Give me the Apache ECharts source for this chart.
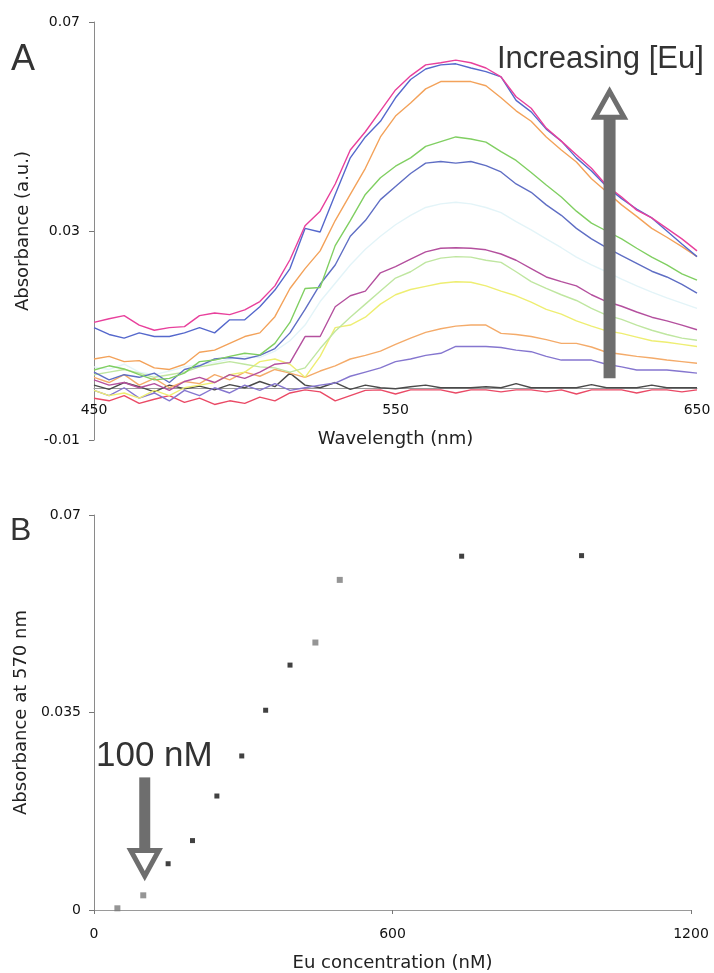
<!DOCTYPE html>
<html>
<head>
<meta charset="utf-8">
<script src="https://cdn.jsdelivr.net/npm/echarts@6/dist/echarts.min.js"></script>
<style>
html,body{margin:0;padding:0;background:#fff;}
#chart{width:714px;height:973px;}
</style>
</head>
<body>
<div id="chart"></div>
<script>
// ---------- Panel A: absorbance spectra ----------
const wavelengths = [450,455,460,465,470,475,480,485,490,495,500,505,510,515,520,525,530,535,540,545,550,555,560,565,570,575,580,585,590,595,600,605,610,615,620,625,630,635,640,645,650];

const specMagenta = [0.0125,0.0132,0.0138,0.0120,0.0110,0.0115,0.0117,0.0138,0.0143,0.0140,0.0149,0.0165,0.0195,0.0245,0.0310,0.0338,0.0390,0.0455,0.0490,0.0530,0.0570,0.0597,0.0618,0.0622,0.0627,0.0622,0.0612,0.0595,0.0557,0.0535,0.0497,0.0472,0.0446,0.0420,0.0387,0.0365,0.0340,0.0325,0.0305,0.0285,0.0262];
const specBlue = [0.0115,0.0102,0.0095,0.0105,0.0098,0.0098,0.0105,0.0115,0.0105,0.0130,0.0130,0.0155,0.0187,0.0228,0.0305,0.0298,0.0370,0.0440,0.0480,0.0510,0.0555,0.0590,0.0610,0.0618,0.0620,0.0612,0.0605,0.0595,0.0550,0.0528,0.0495,0.0472,0.0440,0.0415,0.0385,0.0362,0.0342,0.0325,0.0300,0.0275,0.0251];
const specOrange = [0.0055,0.0060,0.0050,0.0052,0.0038,0.0035,0.0045,0.0068,0.0072,0.0085,0.0098,0.0105,0.0136,0.0190,0.0228,0.0262,0.0320,0.0370,0.0420,0.0480,0.0520,0.0545,0.0572,0.0586,0.0586,0.0586,0.0578,0.0555,0.0530,0.0510,0.0480,0.0455,0.0432,0.0400,0.0375,0.0350,0.0328,0.0305,0.0288,0.0270,0.0251];
const specGreen = [0.0034,0.0042,0.0036,0.0025,0.0015,0.0018,0.0028,0.0050,0.0053,0.0060,0.0066,0.0063,0.0085,0.0125,0.0190,0.0192,0.0272,0.0320,0.0370,0.0402,0.0424,0.0440,0.0462,0.0471,0.0480,0.0476,0.0470,0.0452,0.0435,0.0412,0.0388,0.0365,0.0338,0.0315,0.0300,0.0285,0.0267,0.0250,0.0235,0.0218,0.0206];
const specCyan = [0.0040,0.0035,0.0045,0.0030,0.0025,0.0032,0.0040,0.0045,0.0048,0.0055,0.0060,0.0058,0.0070,0.0090,0.0120,0.0165,0.0200,0.0235,0.0265,0.0290,0.0312,0.0330,0.0345,0.0352,0.0355,0.0352,0.0345,0.0335,0.0318,0.0302,0.0285,0.0268,0.0250,0.0235,0.0222,0.0208,0.0195,0.0183,0.0172,0.0162,0.0152];
const specSlate = [0.0030,0.0015,0.0025,0.0020,0.0028,0.0010,0.0035,0.0042,0.0055,0.0058,0.0055,0.0062,0.0075,0.0105,0.0150,0.0198,0.0235,0.0290,0.0320,0.0360,0.0385,0.0410,0.0430,0.0433,0.0430,0.0433,0.0425,0.0413,0.0390,0.0374,0.0350,0.0330,0.0305,0.0285,0.0268,0.0253,0.0238,0.0223,0.0212,0.0198,0.0181];
const specPurpleMagenta = [0.0015,0.0005,0.0010,0.0000,0.0008,-0.0005,0.0012,0.0020,0.0010,0.0025,0.0018,0.0030,0.0045,0.0048,0.0098,0.0098,0.0155,0.0176,0.0185,0.0220,0.0232,0.0246,0.0260,0.0267,0.0268,0.0267,0.0264,0.0256,0.0244,0.0228,0.0212,0.0203,0.0195,0.0178,0.0165,0.0156,0.0145,0.0135,0.0128,0.0120,0.0111];
const specLightGreen = [0.0025,0.0030,0.0035,0.0028,0.0020,0.0025,0.0030,0.0040,0.0045,0.0050,0.0045,0.0040,0.0038,0.0030,0.0038,0.0075,0.0108,0.0135,0.0160,0.0185,0.0210,0.0222,0.0240,0.0248,0.0251,0.0250,0.0244,0.0240,0.0222,0.0203,0.0190,0.0178,0.0167,0.0152,0.0139,0.0131,0.0120,0.0110,0.0102,0.0095,0.0091];
const specYellow = [-0.0005,-0.0015,-0.0010,-0.0020,-0.0005,-0.0015,0.0000,0.0005,0.0010,0.0025,0.0030,0.0050,0.0055,0.0045,0.0020,0.0060,0.0115,0.0120,0.0135,0.0160,0.0178,0.0188,0.0194,0.0200,0.0203,0.0202,0.0195,0.0185,0.0176,0.0164,0.0150,0.0141,0.0128,0.0118,0.0109,0.0104,0.0097,0.0090,0.0087,0.0083,0.0079];
const specOrange2 = [0.0020,0.0010,0.0025,0.0005,0.0018,0.0000,0.0012,0.0008,0.0025,0.0015,0.0030,0.0022,0.0035,0.0028,0.0020,0.0032,0.0042,0.0055,0.0062,0.0070,0.0083,0.0095,0.0106,0.0113,0.0118,0.0120,0.0120,0.0104,0.0102,0.0098,0.0092,0.0085,0.0085,0.0078,0.0068,0.0064,0.0060,0.0057,0.0053,0.0050,0.0047];
const specPurple = [-0.0005,-0.0015,0.0000,-0.0020,-0.0010,-0.0025,-0.0005,-0.0015,0.0000,-0.0010,0.0005,-0.0005,0.0008,-0.0005,0.0000,0.0005,0.0009,0.0022,0.0030,0.0038,0.0050,0.0055,0.0062,0.0066,0.0079,0.0079,0.0079,0.0077,0.0072,0.0069,0.0060,0.0053,0.0053,0.0053,0.0045,0.0040,0.0034,0.0034,0.0034,0.0031,0.0028];
const specBlack = [0.0005,-0.0003,0.0010,0.0002,-0.0008,0.0005,-0.0002,0.0003,-0.0004,0.0006,0.0000,0.0012,0.0002,0.0028,0.0005,0.0000,0.0010,-0.0003,0.0005,0.0000,-0.0002,0.0002,0.0005,0.0000,0.0000,0.0000,0.0002,0.0000,0.0008,0.0000,0.0000,0.0000,0.0000,0.0006,0.0000,0.0000,0.0000,0.0005,0.0000,0.0000,0.0000];
const specRed = [-0.0020,-0.0025,-0.0015,-0.0030,-0.0022,-0.0015,-0.0028,-0.0020,-0.0032,-0.0025,-0.0030,-0.0018,-0.0025,-0.0010,-0.0004,-0.0008,-0.0025,-0.0015,-0.0005,-0.0004,-0.0012,-0.0004,-0.0004,-0.0004,-0.0010,-0.0004,-0.0004,-0.0008,-0.0004,-0.0004,-0.0008,-0.0004,-0.0012,-0.0004,-0.0004,-0.0004,-0.0010,-0.0004,-0.0004,-0.0008,-0.0004];

const yTicksA = [-0.01, 0.03, 0.07];

// ---------- Panel B: absorbance at 570 nm vs Eu concentration ----------
const grayConc = [47, 99, 445, 494];
const grayAbs  = [0.0003, 0.0026, 0.0474, 0.0585];
const blackConc = [149, 198, 247, 297, 345, 394, 739, 980];
const blackAbs  = [0.0082, 0.0123, 0.0202, 0.0273, 0.0354, 0.0434, 0.0627, 0.0628];

// ---------- annotation anchors (data units) ----------
const arrowA = {x: 621, bottom: 0.0018, headBase: 0.0513, tip: 0.0575};
const arrowB = {x: 102, top: 0.0235, headBase: 0.0110, tip: 0.0053};

const AXIS_FONT = 'DejaVu Sans';
const ANNOT_FONT = 'Liberation Sans';

function pairs(xs, ys) { return xs.map((x, i) => [x, ys[i]]); }

const spectra = [
  {name: 'c1', data: specCyan, color: '#e3f4f8'},
  {name: 'blank', data: specBlack, color: '#4a4a4a'},
  {name: 'c0', data: specRed, color: '#ea4a66'},
  {name: 'c2', data: specPurple, color: '#8576cf'},
  {name: 'c3', data: specOrange2, color: '#f4ab6a'},
  {name: 'c4', data: specYellow, color: '#eeee72'},
  {name: 'c5', data: specLightGreen, color: '#bfe6a0'},
  {name: 'c6', data: specPurpleMagenta, color: '#b4509e'},
  {name: 'c7', data: specSlate, color: '#5f6ec4'},
  {name: 'c8', data: specGreen, color: '#80cf62'},
  {name: 'c9', data: specOrange, color: '#f3a25a'},
  {name: 'c10', data: specBlue, color: '#5568cc'},
  {name: 'c11', data: specMagenta, color: '#e8409c'}
];

const axisLabelStyle = {fontFamily: AXIS_FONT, fontSize: 14, color: '#111', formatter: v => String(v)};
const axisNameStyle = {fontFamily: AXIS_FONT, fontSize: 18, color: '#222'};

const chart = echarts.init(document.getElementById('chart'), null, {renderer: 'canvas'});

const option = {
  animation: false,
  backgroundColor: '#ffffff',
  grid: [
    {left: 94, top: 22, width: 603, height: 418},
    {left: 94, top: 515, width: 597, height: 395}
  ],
  xAxis: [
    {
      gridIndex: 0, type: 'value', min: 450, max: 650, interval: 100,
      name: 'Wavelength (nm)', nameLocation: 'middle', nameGap: 43, nameTextStyle: axisNameStyle,
      axisLine: {onZero: false, lineStyle: {color: '#9a9a9a', width: 1}},
      axisTick: {show: false},
      axisLabel: Object.assign({margin: 16}, axisLabelStyle),
      splitLine: {show: false}
    },
    {
      gridIndex: 1, type: 'value', min: 0, max: 1200, interval: 600,
      name: 'Eu concentration (nM)', nameLocation: 'middle', nameGap: 44, nameTextStyle: axisNameStyle,
      axisLine: {onZero: false, lineStyle: {color: '#9a9a9a', width: 1}},
      axisTick: {show: true, length: 4, lineStyle: {color: '#777'}},
      axisLabel: Object.assign({margin: 17}, axisLabelStyle),
      splitLine: {show: false}
    }
  ],
  yAxis: [
    {
      gridIndex: 0, type: 'value', min: -0.01, max: 0.07, interval: 0.01,
      name: 'Absorbance (a.u.)', nameLocation: 'middle', nameGap: 62, nameTextStyle: axisNameStyle,
      axisLine: {show: true, onZero: false, lineStyle: {color: '#8a8a8a', width: 1}},
      axisTick: {show: true, length: 5, customValues: yTicksA, lineStyle: {color: '#777'}},
      axisLabel: Object.assign({margin: 14, customValues: yTicksA}, axisLabelStyle),
      splitLine: {show: false}
    },
    {
      gridIndex: 1, type: 'value', min: 0, max: 0.07, interval: 0.035,
      name: 'Absorbance at 570 nm', nameLocation: 'middle', nameGap: 62, nameTextStyle: axisNameStyle,
      axisLine: {show: true, onZero: false, lineStyle: {color: '#8a8a8a', width: 1}},
      axisTick: {show: true, length: 5, lineStyle: {color: '#777'}},
      axisLabel: Object.assign({margin: 13}, axisLabelStyle),
      splitLine: {show: false}
    }
  ],
  series: spectra.map(s => ({
    name: s.name, type: 'line', xAxisIndex: 0, yAxisIndex: 0,
    data: pairs(wavelengths, s.data), showSymbol: false, symbol: 'none',
    lineStyle: {color: s.color, width: 1.4}, itemStyle: {color: s.color},
    silent: true
  })).concat([
    {
      name: 'gray points', type: 'scatter', xAxisIndex: 1, yAxisIndex: 1,
      data: pairs(grayConc, grayAbs), symbol: 'rect', symbolSize: 6,
      itemStyle: {color: '#7a7a7a'}
    },
    {
      name: 'black points', type: 'scatter', xAxisIndex: 1, yAxisIndex: 1,
      data: pairs(blackConc, blackAbs), symbol: 'rect', symbolSize: 5,
      itemStyle: {color: '#111111'}
    }
  ])
};

chart.setOption(option);

// Put panel A's wavelength axis (line, labels and title) on the zero line.
const zeroPx = chart.convertToPixel({gridIndex: 0}, [450, 0])[1];
const bottomPx = chart.convertToPixel({gridIndex: 0}, [450, -0.01])[1];
chart.setOption({xAxis: [{offset: zeroPx - bottomPx}, {}]});

// ---------- annotations, anchored to data coordinates ----------
const GREY = '#6e6e6e';
const a0 = chart.convertToPixel({gridIndex: 0}, [arrowA.x, arrowA.bottom]);
const a1 = chart.convertToPixel({gridIndex: 0}, [arrowA.x, arrowA.headBase]);
const a2 = chart.convertToPixel({gridIndex: 0}, [arrowA.x, arrowA.tip]);
const b0 = chart.convertToPixel({gridIndex: 1}, [arrowB.x, arrowB.top]);
const b1 = chart.convertToPixel({gridIndex: 1}, [arrowB.x, arrowB.headBase]);
const b2 = chart.convertToPixel({gridIndex: 1}, [arrowB.x, arrowB.tip]);

function txt(text, x, y, size) {
  return {
    type: 'text', z: 100,
    style: {
      text: text, x: x, y: y, fill: '#333',
      font: 'normal ' + size + 'px "' + ANNOT_FONT + '"',
      textAlign: 'left', textVerticalAlign: 'middle',
      align: 'left', verticalAlign: 'middle'
    }
  };
}

chart.setOption({
  graphic: [
    // panel A arrow (up)
    {type: 'rect', z: 90, shape: {x: a0[0] - 6, y: a1[1] - 3, width: 12, height: a0[1] - a1[1] + 3},
     style: {fill: GREY}},
    {type: 'polygon', z: 91,
     shape: {points: [[a1[0] - 14.5, a1[1] - 2.5], [a1[0] + 14.5, a1[1] - 2.5], [a2[0], a2[1] + 4]]},
     style: {fill: '#ffffff', stroke: GREY, lineWidth: 5, lineJoin: 'miter'}},
    // panel B arrow (down)
    {type: 'rect', z: 90, shape: {x: b0[0] - 5.5, y: b0[1], width: 11, height: b1[1] - b0[1] + 3},
     style: {fill: GREY}},
    {type: 'polygon', z: 91,
     shape: {points: [[b1[0] - 14, b1[1] + 2.5], [b1[0] + 14, b1[1] + 2.5], [b2[0], b2[1] - 4]]},
     style: {fill: '#ffffff', stroke: GREY, lineWidth: 5, lineJoin: 'miter'}},
    txt('Increasing [Eu]', 497, 59, 31),
    txt('100 nM', 96, 756, 35),
    txt('A', 11, 60, 36),
    txt('B', 10, 531, 32)
  ]
});
</script>
</body>
</html>
